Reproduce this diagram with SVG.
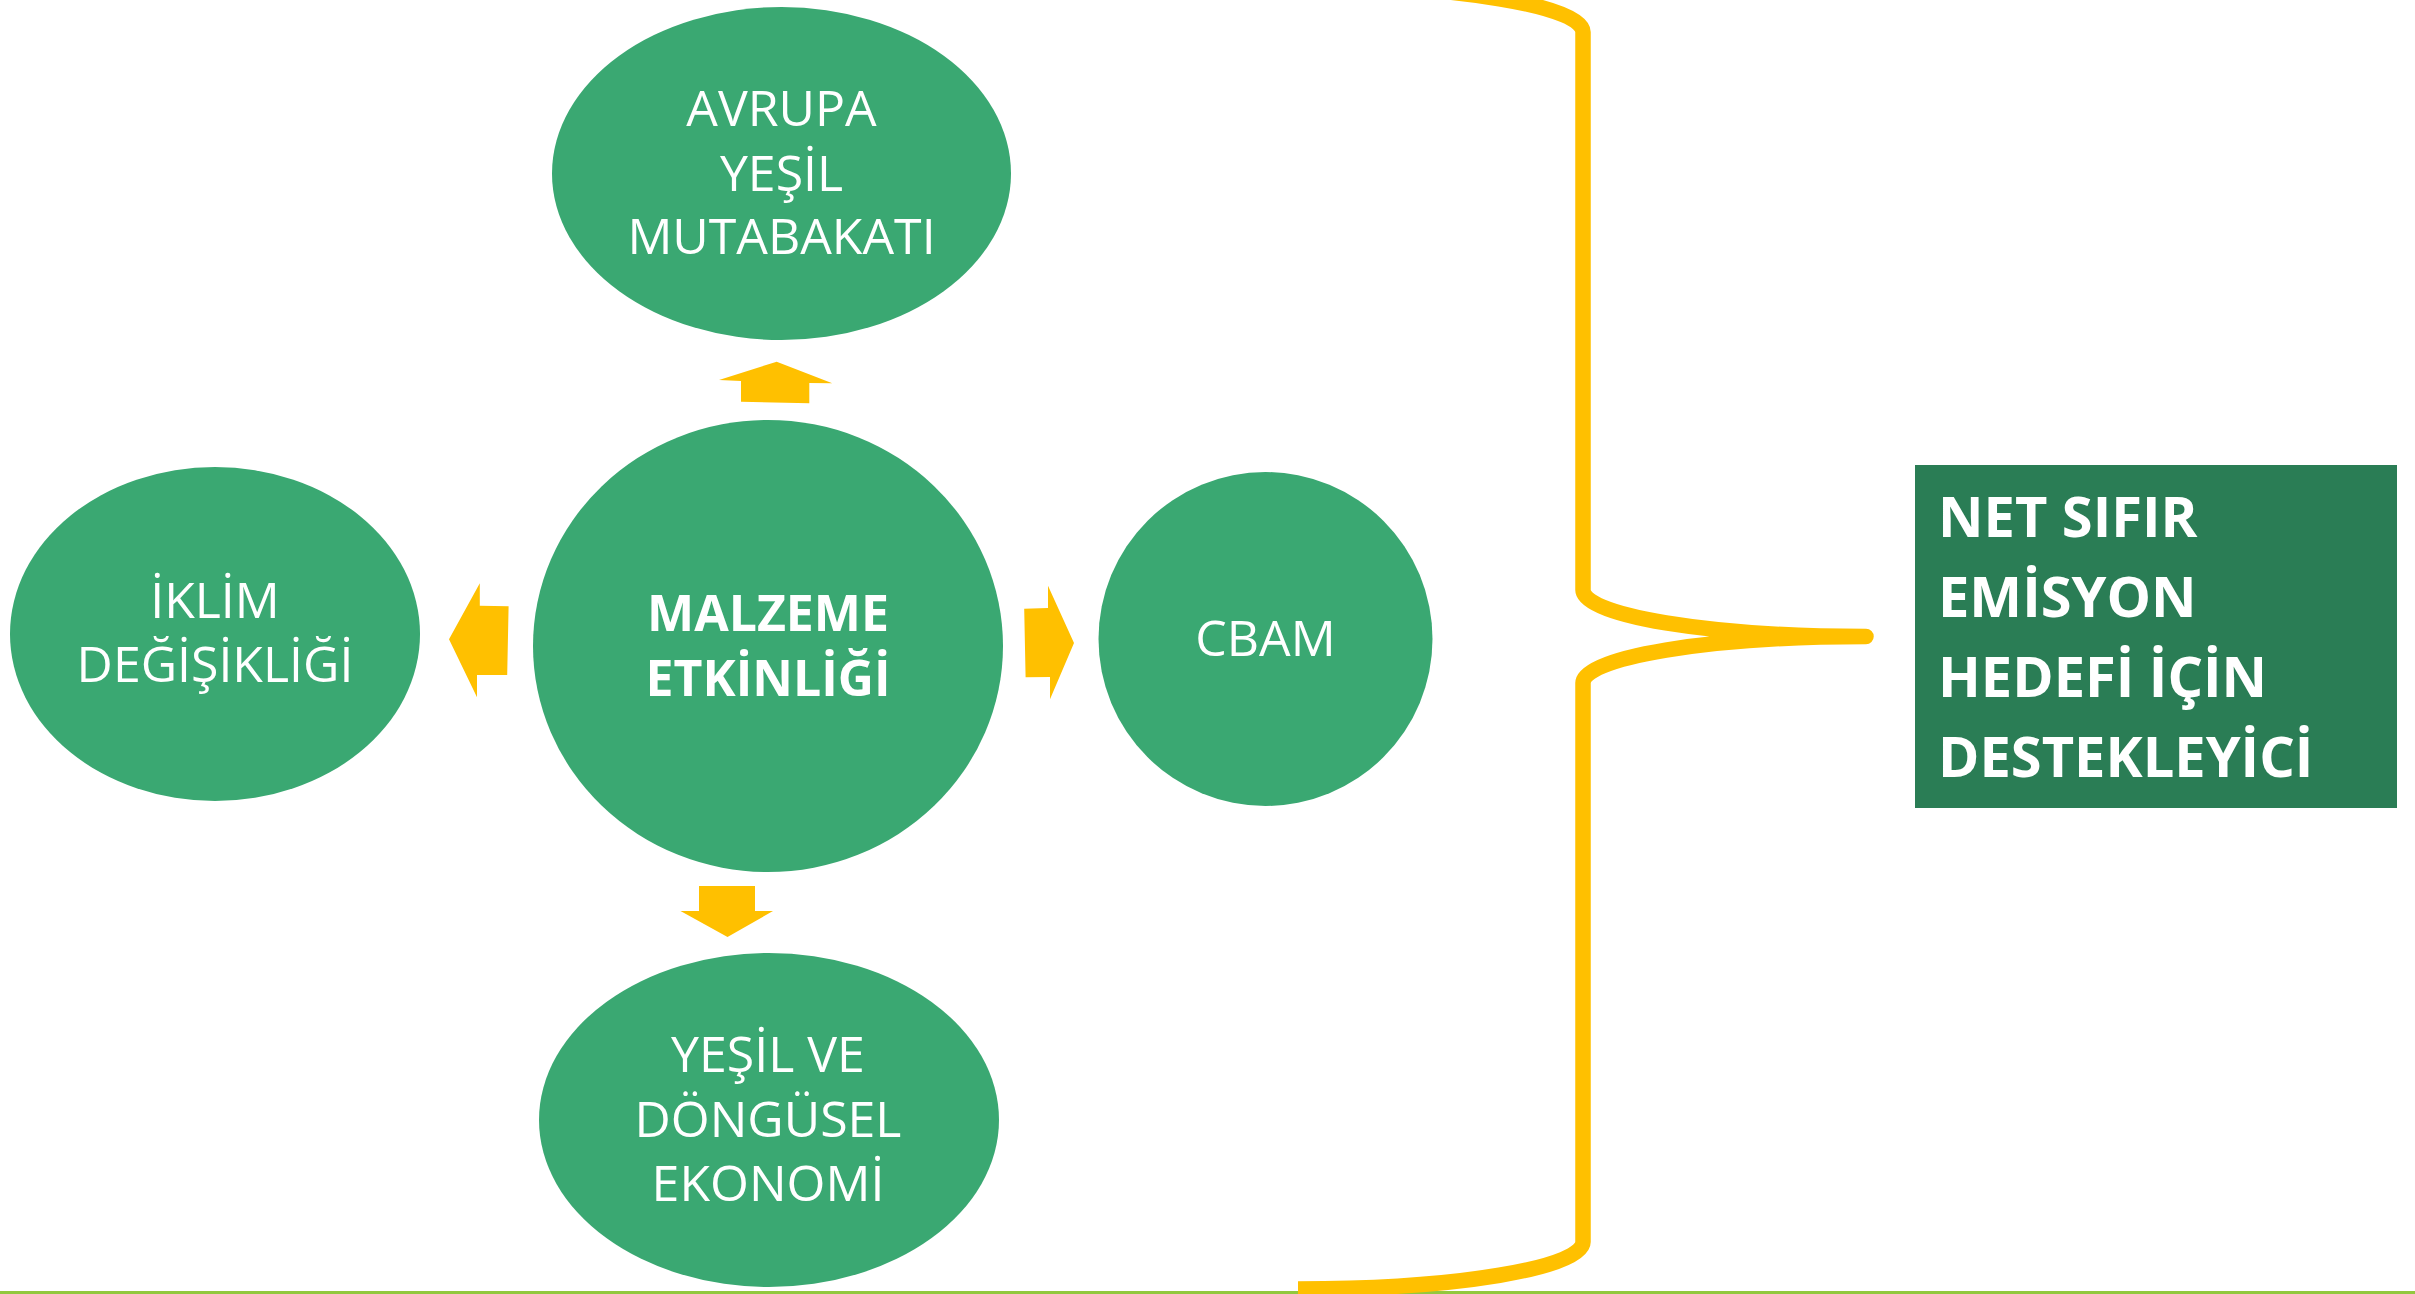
<svg xmlns="http://www.w3.org/2000/svg" width="2415" height="1294" viewBox="0 0 2415 1294">
<style>
.node{fill:#3AA872}
.t{font-family:"Open Sans","Noto Sans",sans-serif;font-size:50px;fill:#FFFFFF;text-anchor:middle}
.b{font-weight:bold}
.arrow{fill:#FFC000}
.brace{fill:none;stroke:#FFC000;stroke-width:15.5;stroke-linejoin:round;stroke-linecap:butt}
.rt{font-family:"Open Sans","Noto Sans",sans-serif;font-size:56px;font-weight:bold;fill:#FFFFFF}
</style>
<rect x="0" y="0" width="2415" height="1294" fill="#FFFFFF"/>
<rect x="0" y="1291" width="2415" height="3" fill="#92C83E"/>
<g id="connectors">
<polygon class="arrow" points="776.7,361.7 832.3,383.3 809.3,383 809.3,403.3 741,401.7 741,381 719,380"/>
<polygon class="arrow" points="449,639.3 479.8,583.3 479.8,605.7 508.6,606.3 507.2,675 477,675 477,697.3"/>
<polygon class="arrow" points="1074,643 1050,699.3 1050,677 1025.6,677.3 1024.2,608.7 1048,608 1048,585.7"/>
<polygon class="arrow" points="699,886 755,886 755,911 773,911 727.5,937 680.5,911 699,911"/>
<path class="brace" d="M1298,-15 A285,47 0 0 1 1583,32 L1583,590 A283,46.5 0 0 0 1866,636.5 A283,46.5 0 0 0 1583,683 L1583,1242 A285,47 0 0 1 1298,1289"/>
</g>
<g id="avrupa">
<ellipse class="node" cx="781.5" cy="173.5" rx="229.5" ry="166.5"/>
<text class="t" x="781.5" y="126">AVRUPA</text>
<text class="t" x="781.5" y="191">YEŞİL</text>
<text class="t" x="781.5" y="254">MUTABAKATI</text>
</g>
<g id="iklim">
<ellipse class="node" cx="215" cy="634" rx="205" ry="167"/>
<text class="t" x="215" y="618">İKLİM</text>
<text class="t" x="215" y="682">DEĞİŞİKLİĞİ</text>
</g>
<g id="malzeme">
<ellipse class="node" cx="768" cy="646" rx="235" ry="226"/>
<text class="t b" x="768" y="631" font-size="49">MALZEME</text>
<text class="t b" x="768" y="696" font-size="49">ETKİNLİĞİ</text>
</g>
<g id="cbam">
<circle class="node" cx="1265.5" cy="639" r="167"/>
<text class="t" x="1265.5" y="656">CBAM</text>
</g>
<g id="yesil">
<ellipse class="node" cx="769" cy="1120" rx="230" ry="167"/>
<text class="t" x="768" y="1072">YEŞİL VE</text>
<text class="t" x="768" y="1137">DÖNGÜSEL</text>
<text class="t" x="768" y="1201">EKONOMİ</text>
</g>
<g id="netsifir">
<rect x="1915" y="465" width="482" height="343" fill="#2A7D55"/>
<text class="rt" x="1938" y="537">NET SIFIR</text>
<text class="rt" x="1938" y="617">EMİSYON</text>
<text class="rt" x="1938" y="697">HEDEFİ İÇİN</text>
<text class="rt" x="1938" y="777">DESTEKLEYİCİ</text>
</g>
</svg>
